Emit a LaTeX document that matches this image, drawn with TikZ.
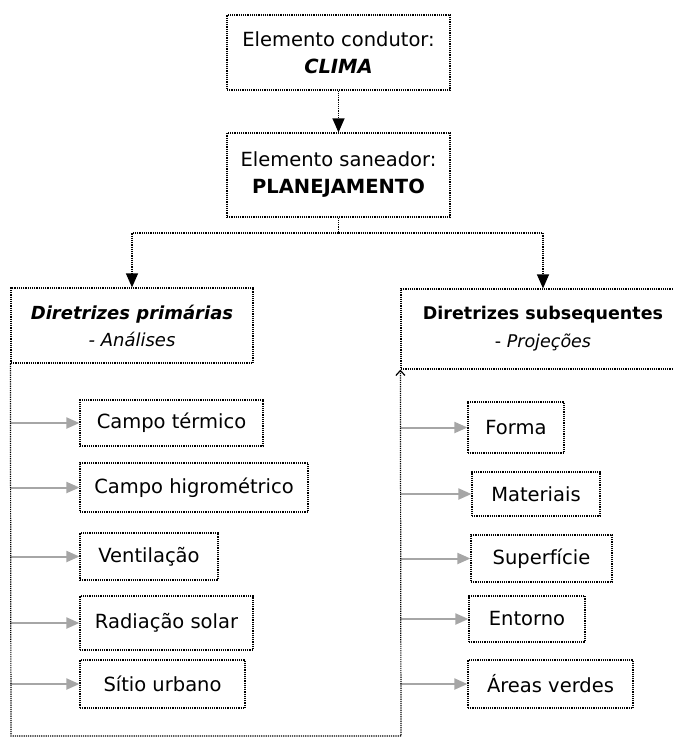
\documentclass[tikz,border=0pt]{standalone}
\usepackage{fontspec}
\setmainfont{DejaVu Sans}
\usetikzlibrary{arrows.meta}

\tikzset{
  caixa/.style={draw, densely dotted, line width=1.2pt, align=center, inner sep=0pt},
  liga/.style={densely dotted, line width=1.2pt, -{Triangle[width=12pt,length=14pt]}},
  seta/.style={draw=gray!70, line width=2pt, -{Triangle[width=11pt,length=13pt]}},
  volta/.style={densely dotted, line width=1.2pt, -{Straight Barb[width=9pt,length=5pt]}}
}

\begin{document}
\begin{tikzpicture}[x=1pt, y=-1pt, font=\fontsize{19.5}{27}\selectfont]
    \clip (0,0) rectangle (674,740);

    % 上方两个框
    \node[caixa, minimum width=223pt, minimum height=75pt] (clima) at (338.5,52.5)
        {Elemento condutor:\\\textbf{\textit{CLIMA}}};
    \node[caixa, minimum width=223pt, minimum height=84pt] (plan) at (338.5,175)
        {Elemento saneador:\\\textbf{PLANEJAMENTO}};

    % 两类指导原则
    \node[caixa, minimum width=242pt, minimum height=75pt, font=\fontsize{18}{27}\selectfont] (prim) at (132,325.5)
        {\textbf{\textit{Diretrizes primárias}}\\\textit{- Análises}};
    \node[caixa, minimum width=284pt, minimum height=80pt, font=\fontsize{17.5}{28}\selectfont] (subs) at (543,329)
        {\textbf{Diretrizes subsequentes}\\- \textit{Projeções}};

    % 主连线
    \coordinate (split) at (338.5,233);
    \draw[liga] (clima) -- (plan);
    \draw[densely dotted, line width=1.2pt] (plan) -- (split);
    \draw[liga] (split) -| (prim);
    \draw[liga] (split) -| (subs);

    % 左侧: 分析
    \node[caixa, minimum width=183pt, minimum height=46pt] (t1) at (171.5,423) {Campo térmico};
    \node[caixa, minimum width=228pt, minimum height=49pt] (t2) at (194,487.5) {Campo higrométrico};
    \node[caixa, minimum width=138pt, minimum height=47pt] (t3) at (149,556.5) {Ventilação};
    \node[caixa, minimum width=173pt, minimum height=54pt] (t4) at (166.5,623) {Radiação solar};
    \node[caixa, minimum width=165pt, minimum height=48pt] (t5) at (162.5,684) {Sítio urbano};

    % 右侧: 投影
    \node[caixa, minimum width=96pt, minimum height=51pt] (s1) at (516,427.5) {Forma};
    \node[caixa, minimum width=128pt, minimum height=44pt] (s2) at (536,494) {Materiais};
    \node[caixa, minimum width=141pt, minimum height=47pt] (s3) at (541.5,558.5) {Superfície};
    \node[caixa, minimum width=116pt, minimum height=46pt] (s4) at (527,619) {Entorno};
    \node[caixa, minimum width=165pt, minimum height=48pt] (s5) at (550.5,684) {Áreas verdes};

    % 灰色箭头
    \foreach \n in {t1,t2,t3,t4,t5}
        \draw[seta] (prim.south west |- \n.west) -- (\n.west);
    \foreach \n in {s1,s2,s3,s4,s5}
        \draw[seta] (subs.south west |- \n.west) -- (\n.west);

    % 底部回线
    \coordinate (cantoA) at (11,736);
    \coordinate (cantoB) at (401,736);
    \draw[volta] (prim.south west) -- (cantoA) -- (cantoB) -- (subs.south west);
\end{tikzpicture}
\end{document}
